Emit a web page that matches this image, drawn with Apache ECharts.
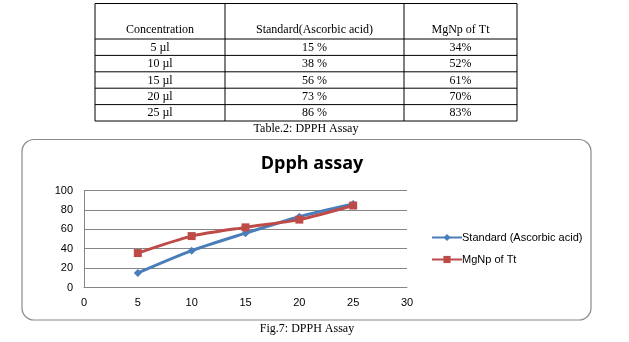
<!DOCTYPE html>
<html>
<head>
<meta charset="utf-8">
<script src="https://cdn.jsdelivr.net/npm/echarts@6/dist/echarts.min.js"></script>
<style>
html,body{margin:0;padding:0;background:#fff;}
#c{width:629px;height:342px;}
</style>
</head>
<body>
<div id="c"></div>
<script>
// ---- data ----
var tableHeaders = ["Concentration", "Standard(Ascorbic acid)", "MgNp of Tt"];
var concLabels = ["5 µl", "10 µl", "15 µl", "20 µl", "25 µl"];
var stdLabels = ["15 %", "38 %", "56 %", "73 %", "86 %"];
var mgLabels = ["34%", "52%", "61%", "70%", "83%"];
var xValues = [5, 10, 15, 20, 25];
var stdValues = [15, 38, 56, 73, 86];
var mgValues = [35.5, 53, 62, 70, 84.5];
var seriesNames = ["Standard (Ascorbic acid)", "MgNp of Tt"];
var chartTitle = "Dpph assay";
var tableCaption = "Table.2: DPPH Assay";
var figCaption = "Fig.7: DPPH Assay";

var chart = echarts.init(document.getElementById('c'), null, {renderer: 'canvas'});

// table geometry
var colX = [95, 225, 404, 517];
var headTop = 3.5, headBottom = 39, rowH = 16.4;
var serif = '"Liberation Serif", "Times New Roman", serif';
var g = [];
var tableBottom = headBottom + rowH * concLabels.length;
var hy = [headTop, headBottom];
for (var i = 1; i <= concLabels.length; i++) hy.push(headBottom + rowH * i);
hy.forEach(function (y) {
  g.push({type: 'line', shape: {x1: colX[0], y1: y, x2: colX[3], y2: y}, style: {stroke: '#000', lineWidth: 1}});
});
colX.forEach(function (x) {
  g.push({type: 'line', shape: {x1: x, y1: headTop, x2: x, y2: tableBottom}, style: {stroke: '#000', lineWidth: 1}});
});
function cellText(txt, col, y) {
  g.push({type: 'text', x: (colX[col] + colX[col + 1]) / 2, y: y,
    style: {text: txt, fill: '#000', font: '12px ' + serif, align: 'center', verticalAlign: 'middle'}});
}
tableHeaders.forEach(function (h, c) { cellText(h, c, 30); });
var cols = [concLabels, stdLabels, mgLabels];
for (var r = 0; r < concLabels.length; r++) {
  for (var c = 0; c < 3; c++) cellText(cols[c][r], c, headBottom + rowH * r + rowH / 2 + 0.5);
}
g.push({type: 'text', x: 306, y: 129, style: {text: tableCaption, fill: '#000', font: '12px ' + serif, align: 'center', verticalAlign: 'middle'}});
g.push({type: 'rect', shape: {x: 22, y: 139.5, width: 569, height: 180.5, r: 12}, style: {fill: 'none', stroke: '#8a8a8a', lineWidth: 1.2}, z: -1});
g.push({type: 'text', x: 307, y: 329, style: {text: figCaption, fill: '#000', font: '12px ' + serif, align: 'center', verticalAlign: 'middle'}});

var sans = '"Liberation Sans", Arial, sans-serif';
chart.setOption({
  animation: false,
  backgroundColor: '#fff',
  title: {
    text: chartTitle, left: 307, top: 150, textAlign: 'center',
    textStyle: {fontFamily: '"Open Sans", sans-serif', fontWeight: 'bold', fontSize: 18, color: '#000'}
  },
  grid: {left: 84, top: 190.5, width: 323, height: 97, containLabel: false},
  legend: {
    orient: 'vertical', left: 426, top: 227, itemGap: 11, itemWidth: 30, itemHeight: 9,
    textStyle: {fontFamily: sans, fontSize: 11, color: '#000', padding: [0, 0, 0, -5]},
    data: seriesNames
  },
  xAxis: {
    type: 'value', min: 0, max: 30, interval: 5,
    axisLine: {show: true, onZero: false, lineStyle: {color: '#868686'}},
    axisTick: {show: false},
    splitLine: {show: false},
    axisLabel: {fontFamily: sans, fontSize: 11, color: '#000', margin: 10}
  },
  yAxis: {
    type: 'value', min: 0, max: 100, interval: 20,
    axisLine: {show: true, lineStyle: {color: '#868686'}},
    axisTick: {show: false},
    splitLine: {show: true, lineStyle: {color: '#868686', width: 1}},
    axisLabel: {fontFamily: sans, fontSize: 11, color: '#000', margin: 11}
  },
  series: [
    {
      name: seriesNames[0], type: 'line', smooth: 0.25,
      data: xValues.map(function (x, i) { return [x, stdValues[i]]; }),
      symbol: 'diamond', symbolSize: 8,
      lineStyle: {color: '#4A7EBB', width: 3},
      itemStyle: {color: '#4A7EBB'}
    },
    {
      name: seriesNames[1], type: 'line', smooth: 0.25,
      data: xValues.map(function (x, i) { return [x, mgValues[i]]; }),
      symbol: 'rect', symbolSize: 8,
      lineStyle: {color: '#BE4B48', width: 3},
      itemStyle: {color: '#BE4B48'}
    }
  ],
  graphic: g
});
</script>
</body>
</html>
